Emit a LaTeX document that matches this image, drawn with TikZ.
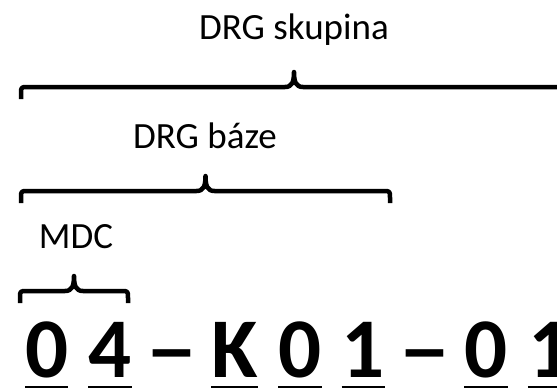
\documentclass[tikz,border=0pt]{standalone}
\usepackage{fontspec}
\setmainfont{Carlito}
\usetikzlibrary{positioning}

% brace opening downwards: left x, right x, y of the two ends
\newcommand{\codebrace}[3]{%
    \pgfmathsetmacro{\xm}{(#1+#2)/2}
    \draw[brace line] (#1,#3) -- (#1,#3-5) .. controls (#1,#3-12) .. (#1+7,#3-12)
        -- (\xm-9,#3-12) .. controls (\xm-2,#3-12) and (\xm,#3-17) .. (\xm,#3-27)
        .. controls (\xm,#3-17) and (\xm+2,#3-12) .. (\xm+9,#3-12)
        -- (#2-7,#3-12) .. controls (#2,#3-12) .. (#2,#3-5) -- (#2,#3);
}

\begin{document}
\begin{tikzpicture}[x=1pt,y=-1pt,node distance=20pt,
        code node/.style={inner sep=0pt,font=\fontsize{85}{90}\selectfont\bfseries},
        label node/.style={inner sep=0pt,anchor=base,font=\fontsize{37}{40}\selectfont},
        brace line/.style={line width=4.5pt,line join=round},
        under line/.style={line width=5.5pt}]
    \clip (0,0) rectangle (557,388);

    % labels over the braces
    \node[label node] (skupina) at (294,39) {DRG skupina};
    \node[label node] (baze) at (205,148) {DRG báze};
    \node[label node] (mdc) at (76,248) {MDC};

    \codebrace{21}{567}{99}
    \codebrace{21}{390}{203}
    \codebrace{20}{128}{303}

    % the code itself
    \node[code node,anchor=base west] (1) at (25,377) {0};
    \node[code node] (2) [base right=of 1] {4};
    \node[code node] (3) [base right=13pt of 2] {\scalebox{1.25}[1]{--}};
    \node[code node] (4) [base right=13pt of 3] {K};
    \node[code node] (5) [base right=of 4] {0};
    \node[code node] (6) [base right=of 5] {1};
    \node[code node] (7) [base right=13pt of 6] {\scalebox{1.25}[1]{--}};
    \node[code node] (8) [base right=13pt of 7] {0};
    \node[code node] (9) [base right=of 8] {1};

    \foreach \n in {1,2,4,5,6,8,9}
        \draw[under line] ([yshift=-12pt]\n.base west) -- ([yshift=-12pt]\n.base east);

\end{tikzpicture}
\end{document}
